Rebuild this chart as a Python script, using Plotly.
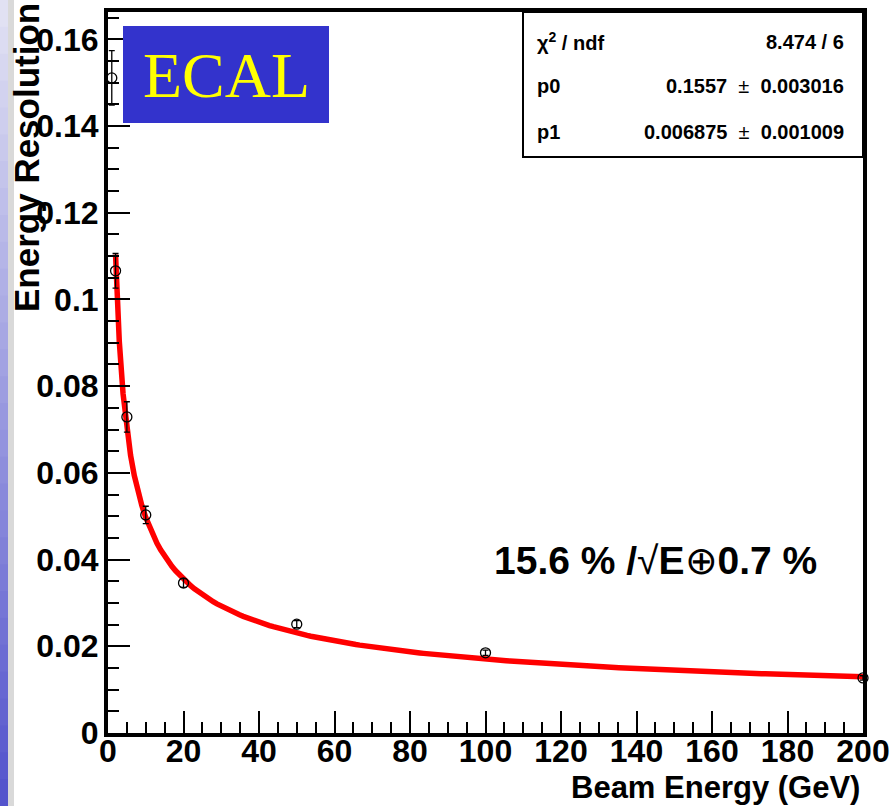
import numpy as np
import plotly.graph_objects as go

# ---- data ----
beam_energy = [1, 2, 5, 10, 20, 50, 100, 200]
resolution = [0.1511, 0.1066, 0.0729, 0.0503, 0.0346, 0.0251, 0.0185, 0.0127]
resolution_err = [0.0063, 0.0040, 0.0035, 0.0020, 0.0010, 0.0008, 0.0006, 0.0005]

# fit parameters shown in the stats box: sigma/E = p0/sqrt(E) (+) p1
fit_p0 = 0.1557
fit_p1 = 0.006875
fit_range = [2, 200]

y_tick_vals = [0, 0.02, 0.04, 0.06, 0.08, 0.10, 0.12, 0.14, 0.16]
y_tick_text = ["0", "0.02", "0.04", "0.06", "0.08", "0.1", "0.12", "0.14", "0.16"]
x_tick_vals = [0, 20, 40, 60, 80, 100, 120, 140, 160, 180, 200]
x_tick_text = [str(v) for v in x_tick_vals]

SP = "&nbsp;" * 2
PM = SP + "<span style='font-weight:normal'>±</span>" + SP
stats_rows = [("χ<sup>2</sup> / ndf", "8.474 / 6"),
              ("p0", "0.1557" + PM + "0.003016"),
              ("p1", "0.006875" + PM + "0.001009")]

# ---- figure geometry (pixels) ----
W, H = 890, 806
L, R, T, B = 108, 863, 12, 733
PW, PH = R - L, B - T

def px(x):
    return (x - L) / PW

def py(y):
    return (B - y) / PH

fit_e = np.linspace(fit_range[0], fit_range[1], 200)
fit_y = np.sqrt(fit_p0 ** 2 / fit_e + fit_p1 ** 2)

fig = go.Figure()
fig.add_trace(go.Scatter(x=fit_e, y=fit_y, mode="lines",
                         line=dict(color="#ff0000", width=5.5), hoverinfo="skip"))
fig.add_trace(go.Scatter(x=beam_energy, y=resolution, mode="markers",
                         marker=dict(symbol="circle-open", size=10, color="black",
                                     line=dict(width=1.3, color="black")),
                         error_y=dict(type="data", array=resolution_err, color="black",
                                      thickness=1.3, width=3),
                         cliponaxis=False))

font_b = dict(family="Liberation Sans, Arial, sans-serif", color="black", weight="bold")

axis_common = dict(showline=True, linewidth=4, linecolor="black", mirror=True,
                   ticks="inside", ticklen=22, tickwidth=2, tickcolor="black",
                   showgrid=False, zeroline=False, automargin=False,
                   tickfont=dict(size=32, **font_b))

fig.update_xaxes(range=[0, 200], tickvals=x_tick_vals, ticktext=x_tick_text,
                 ticklabelstandoff=-13,
                 minor=dict(ticks="inside", ticklen=11, dtick=5, tickwidth=2,
                            tickcolor="black", showgrid=False),
                 **axis_common)
fig.update_yaxes(range=[0, 0.1663], tickvals=y_tick_vals, ticktext=y_tick_text,
                 ticklabelstandoff=-1,
                 minor=dict(ticks="inside", ticklen=11, dtick=0.005, tickwidth=2,
                            tickcolor="black", showgrid=False),
                 **axis_common)

shapes = []
# slide background strip on the left (gradient lavender -> blue)
n = 30
top_c = np.array([228, 228, 244])
bot_c = np.array([82, 82, 204])
for i in range(n):
    c = top_c + (bot_c - top_c) * (i + 0.5) / n
    y0 = i * H / n
    y1 = (i + 1) * H / n + 1
    shapes.append(dict(type="rect", xref="paper", yref="paper",
                       x0=px(0), x1=px(8), y0=py(y1), y1=py(y0),
                       fillcolor="rgb(%d,%d,%d)" % tuple(c.astype(int)),
                       line=dict(width=0), layer="below"))
shapes.append(dict(type="rect", xref="paper", yref="paper",
                   x0=px(8), x1=px(14), y0=py(H), y1=py(0),
                   fillcolor="#d9d9d9", line=dict(width=0), layer="below"))
# ECAL box
shapes.append(dict(type="rect", xref="paper", yref="paper",
                   x0=px(123), x1=px(329), y0=py(123), y1=py(26),
                   fillcolor="#3333cc", line=dict(width=0), layer="above"))
# stats box
shapes.append(dict(type="rect", xref="paper", yref="paper",
                   x0=px(523), x1=px(863), y0=py(157), y1=py(12),
                   fillcolor="white", line=dict(width=2, color="black"), layer="above"))

annotations = []
annotations.append(dict(text="ECAL", xref="paper", yref="paper", x=px(226), y=py(76),
                        showarrow=False, xanchor="center", yanchor="middle",
                        font=dict(family="Liberation Serif, Times New Roman, serif",
                                  size=64, color="#ffff00")))
row_y = [42, 86, 132]
for (lab, val), yy in zip(stats_rows, row_y):
    annotations.append(dict(text=lab, xref="paper", yref="paper", x=px(535), y=py(yy),
                            showarrow=False, xanchor="left", yanchor="middle",
                            font=dict(size=20, **font_b)))
    annotations.append(dict(text=val, xref="paper", yref="paper", x=px(846), y=py(yy),
                            showarrow=False, xanchor="right", yanchor="middle",
                            font=dict(size=20, **font_b)))
annotations.append(dict(text="15.6 % /<span style='font-weight:normal'>√</span>E"
                             "<span style='font-weight:normal'>⊕</span>0.7 %",
                        xref="paper", yref="paper", x=px(655), y=py(560),
                        showarrow=False, xanchor="center", yanchor="middle",
                        font=dict(size=39, **font_b)))
annotations.append(dict(text="Beam Energy (GeV)", xref="paper", yref="paper",
                        x=px(862), y=py(787), showarrow=False,
                        xanchor="right", yanchor="middle",
                        font=dict(size=31, **font_b)))
annotations.append(dict(text="Energy Resolution", xref="paper", yref="paper",
                        x=px(26), y=py(158), showarrow=False, textangle=-90,
                        xanchor="center", yanchor="middle",
                        font=dict(size=35, **font_b)))

fig.update_layout(width=W, height=H, margin=dict(l=L, r=W - R, t=T, b=H - B),
                  paper_bgcolor="white", plot_bgcolor="white", showlegend=False,
                  shapes=shapes, annotations=annotations)

fig.write_html("out.html")
